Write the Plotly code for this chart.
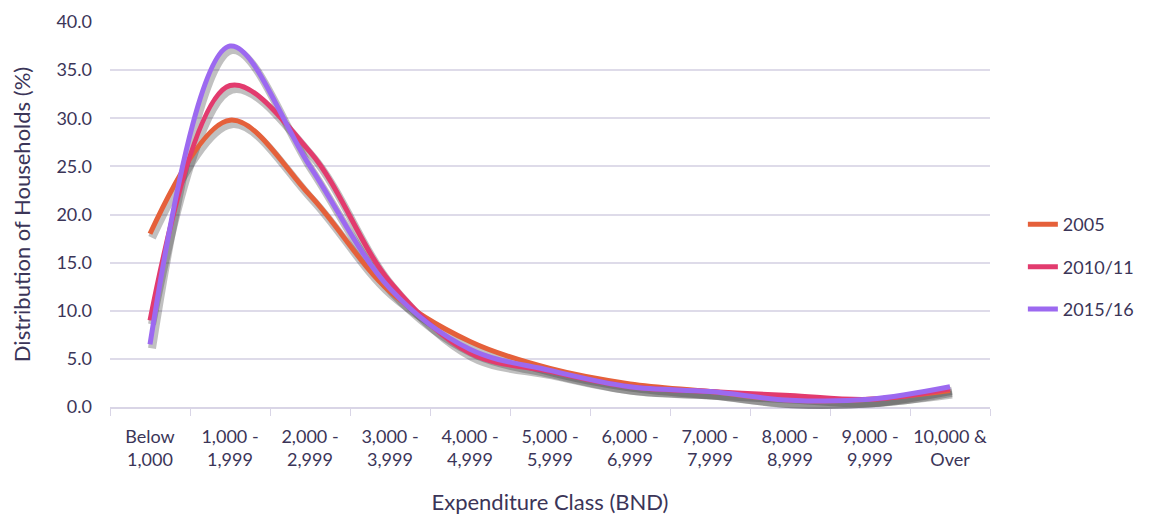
import plotly.graph_objects as go

categories = ["Below<br>1,000", "1,000 -<br>1,999", "2,000 -<br>2,999", "3,000 -<br>3,999",
              "4,000 -<br>4,999", "5,000 -<br>5,999", "6,000 -<br>6,999", "7,000 -<br>7,999",
              "8,000 -<br>8,999", "9,000 -<br>9,999", "10,000 &<br>Over"]
v2005 = [18.0, 29.8, 22.0, 12.0, 6.8, 4.0, 2.4, 1.6, 0.7, 0.8, 1.7]
v2010 = [9.0, 33.4, 26.5, 13.0, 5.6, 3.7, 2.1, 1.6, 1.2, 0.8, 1.9]
v2015 = [6.5, 37.5, 25.0, 12.3, 6.0, 3.8, 2.1, 1.6, 0.7, 0.8, 2.1]
series_names = ["2005", "2010/11", "2015/16"]
colors = ["#E5603A", "#E23B6E", "#9C69F0"]

W, H = 1163, 515
SX, SY = 2, 4  # shadow offset in px
L, R, T, B = 102, 181 - SX, 14, 116 - SY
pw, ph = W - L - R, H - T - B
dx, dy = SX / pw, SY / ph

fig = go.Figure()
values = [v2005, v2010, v2015]
# invisible anchor trace for main grid subplot
fig.add_trace(go.Scatter(x=categories, y=[None] * len(categories), mode="lines",
                         showlegend=False, hoverinfo="skip"))
# shadows
for vals in values:
    fig.add_trace(go.Scatter(x=categories, y=vals, mode="lines", xaxis="x2", yaxis="y2",
                             line=dict(color="rgba(60,60,60,0.32)", width=8, shape="spline", smoothing=1.0),
                             showlegend=False, hoverinfo="skip"))
for i, (name, vals, c) in enumerate(zip(series_names, values, colors)):
    fig.add_trace(go.Scatter(x=categories, y=vals, mode="lines", name=name, xaxis="x3", yaxis="y3",
                             legendgroup=str(i),
                             line=dict(color=c, width=5, shape="spline", smoothing=1.0)))

font_fam = "Lato, Open Sans, sans-serif"
fig.update_layout(
    width=W, height=H, margin=dict(l=L, r=R, t=T, b=B),
    paper_bgcolor="white", plot_bgcolor="rgba(0,0,0,0)",
    font=dict(family=font_fam, size=18, color="#3b3558"),
    xaxis=dict(type="category", domain=[0, 1 - dx], showgrid=False, tickson="boundaries",
               ticks="outside", ticklen=7, tickcolor="#d9d5e6", showline=True, linecolor="#d9d5e6",
               linewidth=2, range=[-0.5, 10.5], anchor="y", ticklabelstandoff=12,
               tickangle=0, automargin=False,
               title=dict(text="Expenditure Class (BND)", standoff=26)),
    yaxis=dict(range=[0, 40], dtick=5, tickformat=".1f", gridcolor="#dedbe9", gridwidth=2,
               domain=[dy, 1], zeroline=False, showline=False, ticks="", anchor="x",
               ticklabelstandoff=17, automargin=False,
               title=dict(text="Distribution of Households (%)", standoff=24)),
    xaxis2=dict(type="category", domain=[dx, 1], visible=False, range=[-0.5, 10.5],
                anchor="y2", categoryarray=categories, automargin=False),
    yaxis2=dict(domain=[0, 1 - dy], range=[0, 40], visible=False, anchor="x2", automargin=False),
    xaxis3=dict(type="category", domain=[0, 1 - dx], visible=False, range=[-0.5, 10.5],
                anchor="y3", categoryarray=categories, automargin=False),
    yaxis3=dict(domain=[dy, 1], range=[0, 40], visible=False, anchor="x3", automargin=False),
    legend=dict(x=1.035, y=0.37, xanchor="left", yanchor="middle",
                tracegroupgap=16, bgcolor="rgba(0,0,0,0)"),
    showlegend=True,
)
fig.write_html("out.html")
